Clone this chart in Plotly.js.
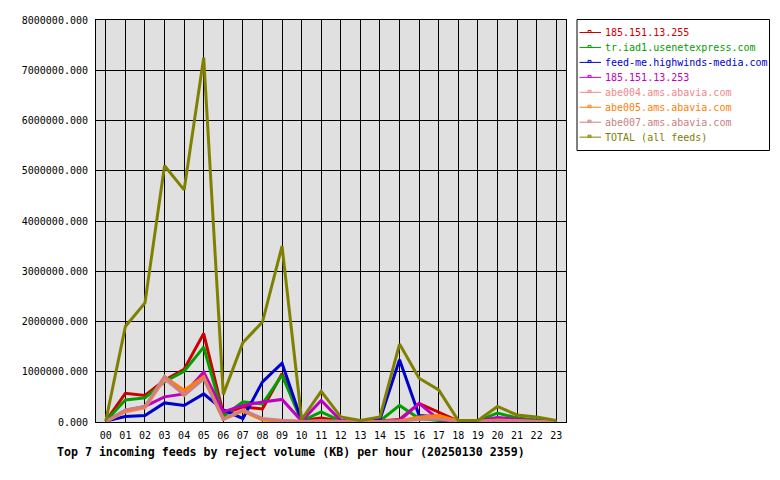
<!DOCTYPE html>
<html>
<head>
<meta charset="utf-8">
<script src="https://cdn.plot.ly/plotly-3.0.1.min.js"></script>
<style>html,body{margin:0;padding:0;background:#fff;}#chart{width:780px;height:480px;}</style>
</head>
<body>
<div id="chart"></div>
<script>
const hours = ['00','01','02','03','04','05','06','07','08','09','10','11','12','13','14','15','16','17','18','19','20','21','22','23'];
const feedNames = ['185.151.13.255','tr.iad1.usenetexpress.com','feed-me.highwinds-media.com','185.151.13.253','abe004.ams.abavia.com','abe005.ams.abavia.com','abe007.ams.abavia.com','TOTAL (all feeds)'];
const feedColors = ['#cc0000','#00a000','#0000cc','#c000c0','#f08888','#ff8000','#cc8080','#808000'];

const feed255   = [20000,570000,530000,830000,1050000,1760000,160000,300000,260000,960000,30000,80000,20000,0,20000,50000,370000,200000,20000,20000,50000,30000,20000,0];
const feedIad1  = [20000,440000,480000,800000,1010000,1490000,110000,400000,360000,930000,20000,200000,20000,0,20000,330000,70000,30000,10000,20000,180000,80000,40000,10000];
const feedHw    = [20000,110000,130000,380000,330000,560000,240000,70000,800000,1170000,30000,10000,10000,0,50000,1240000,130000,100000,10000,10000,30000,20000,10000,0];
const feed253   = [20000,230000,310000,500000,560000,990000,200000,330000,400000,450000,20000,430000,30000,0,20000,30000,370000,50000,10000,20000,90000,50000,20000,0];
const feedAbe4  = [10000,200000,280000,850000,550000,880000,50000,220000,50000,30000,10000,20000,10000,0,10000,20000,80000,100000,20000,10000,30000,20000,10000,0];
const feedAbe5  = [10000,220000,300000,900000,630000,900000,60000,220000,40000,30000,10000,20000,10000,0,10000,20000,100000,130000,20000,10000,40000,20000,10000,0];
const feedAbe7  = [10000,240000,310000,910000,530000,860000,60000,240000,70000,30000,10000,20000,10000,0,10000,20000,50000,60000,10000,10000,30000,20000,10000,0];
const feedTotal = [20000,1900000,2370000,5100000,4620000,7250000,550000,1580000,1990000,3500000,50000,610000,100000,30000,100000,1550000,870000,640000,30000,30000,310000,140000,100000,30000];

const series = [feed255, feedIad1, feedHw, feed253, feedAbe4, feedAbe5, feedAbe7, feedTotal];

const traces = series.map((ys, i) => ({
  x: hours, y: ys, type: 'scatter', mode: 'lines', name: feedNames[i],
  line: {color: feedColors[i], width: 3},
  showlegend: false, hoverinfo: 'skip'
}));

// plot area in pixels
const PL = 96, PR = 566, PT = 20, PB = 422;
const px = v => (v - PL) / (PR - PL);
const py = v => (PB - v) / (PB - PT);

const mono = 'DejaVu Sans Mono, monospace';
const shapes = [];
const annotations = [];
// legend box
shapes.push({type: 'rect', xref: 'paper', yref: 'paper',
  x0: px(577), x1: px(769.5), y0: py(19.5), y1: py(150.5),
  line: {color: '#000', width: 1}, fillcolor: '#ffffff', layer: 'above'});
feedNames.forEach((n, i) => {
  const yy = 32.5 + 14.95 * i;
  shapes.push({type: 'line', xref: 'paper', yref: 'paper',
    x0: px(579.5), x1: px(601), y0: py(yy), y1: py(yy),
    line: {color: feedColors[i], width: 1}, layer: 'above'});
  shapes.push({type: 'rect', xref: 'paper', yref: 'paper',
    x0: px(588), x1: px(591), y0: py(yy), y1: py(yy - 2),
    line: {color: feedColors[i], width: 1}, fillcolor: 'rgba(0,0,0,0)', layer: 'above'});
  annotations.push({xref: 'paper', yref: 'paper', x: px(603), y: py(yy),
    xanchor: 'left', yanchor: 'middle', showarrow: false,
    text: n, font: {family: mono, size: 10, color: feedColors[i]}});
});

const layout = {
  width: 780, height: 480,
  margin: {l: PL, r: 780 - PR, t: PT, b: 480 - PB},
  paper_bgcolor: '#ffffff',
  plot_bgcolor: '#e0e0e0',
  showlegend: false,
  font: {family: mono, size: 10, color: '#000'},
  title: {
    text: '<b>Top 7 incoming feeds by reject volume (KB) per hour (20250130 2359)</b>',
    font: {family: mono, size: 11.6, color: '#000'},
    xref: 'container', yref: 'container',
    x: 57/780, xanchor: 'left', y: 1 - 452/480, yanchor: 'middle'
  },
  xaxis: {
    type: 'category', range: [-0.5, 23.5],
    showgrid: true, gridcolor: '#000', gridwidth: 1,
    showline: true, linecolor: '#000', linewidth: 1, mirror: true,
    ticks: '', ticklabelstandoff: 4,
    tickfont: {family: mono, size: 10, color: '#000'},
    zeroline: false, fixedrange: true
  },
  yaxis: {
    range: [0, 8000000], dtick: 1000000, tickformat: '.3f',
    showgrid: true, gridcolor: '#000', gridwidth: 1,
    showline: true, linecolor: '#000', linewidth: 1, mirror: true,
    ticks: '', ticklabelstandoff: 5,
    tickfont: {family: mono, size: 10, color: '#000'},
    zeroline: false, fixedrange: true
  },
  shapes: shapes,
  annotations: annotations
};
Plotly.newPlot('chart', traces, layout, {staticPlot: true, displayModeBar: false});
</script>
</body>
</html>
